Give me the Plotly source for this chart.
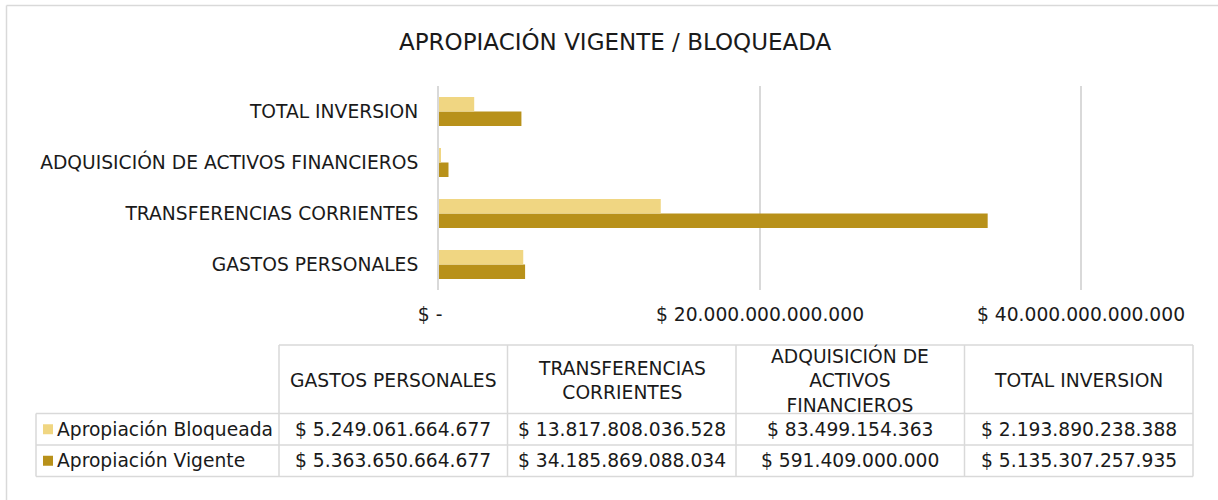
import plotly.graph_objects as go

# ---------------- data ----------------
title_text = "APROPIACIÓN VIGENTE / BLOQUEADA"
categories = ["GASTOS PERSONALES", "TRANSFERENCIAS CORRIENTES",
              "ADQUISICIÓN DE ACTIVOS FINANCIEROS", "TOTAL INVERSION"]
table_headers = ["GASTOS PERSONALES", "TRANSFERENCIAS<br>CORRIENTES",
                 "ADQUISICIÓN DE<br>ACTIVOS<br>FINANCIEROS", "TOTAL INVERSION"]
series_names = ["Apropiación Bloqueada", "Apropiación Vigente"]
bloqueada = [5249061664677, 13817808036528, 83499154363, 2193890238388]
vigente = [5363650664677, 34185869088034, 591409000000, 5135307257935]
x_tickvals = [0, 20e12, 40e12]
x_ticktext = ["$ -\u00a0\u00a0\u00a0", "$ 20.000.000.000.000", "$ 40.000.000.000.000"]

# ---------------- style ----------------
W, H = 1218, 500
FONT = "DejaVu Sans"
FS = 18.7
C_LIGHT = "#F0D682"
C_DARK = "#B8911A"
GRID = "#D9D9D9"
TXT = "#1a1a1a"

def px(x):
    return x / W

def py(y):
    return 1 - y / H

def money(v):
    return "$ " + f"{v:,.0f}".replace(",", ".")

fig = go.Figure()
fig.add_trace(go.Bar(y=categories, x=vigente, orientation="h", name=series_names[1],
                     marker=dict(color=C_DARK, line=dict(width=0))))
fig.add_trace(go.Bar(y=categories, x=bloqueada, orientation="h", name=series_names[0],
                     marker=dict(color=C_LIGHT, line=dict(width=0))))

x0, x1 = 439, 439 + 45 * (1081 - 439) / 40
y_top, y_bot = 86, 290

shapes = []
annotations = []

# outer frame (top and left edges visible)
shapes.append(dict(type="line", xref="paper", yref="paper", x0=px(6.5), x1=px(1230),
                   y0=py(5.5), y1=py(5.5), line=dict(color=GRID, width=1.5)))
shapes.append(dict(type="line", xref="paper", yref="paper", x0=px(6.5), x1=px(6.5),
                   y0=py(5.5), y1=py(510), line=dict(color=GRID, width=1.5)))

# ---------------- data table ----------------
col_l = 279
col_w = (1193 - 279) / 4
first_l = 36
row_y = [345, 413.5, 445, 476.5]
lc = dict(color=GRID, width=1.5)
shapes.append(dict(type="line", xref="paper", yref="paper", x0=px(col_l), x1=px(1193),
                   y0=py(row_y[0]), y1=py(row_y[0]), line=lc))
for yy in row_y[1:]:
    shapes.append(dict(type="line", xref="paper", yref="paper", x0=px(first_l), x1=px(1193),
                       y0=py(yy), y1=py(yy), line=lc))
shapes.append(dict(type="line", xref="paper", yref="paper", x0=px(first_l), x1=px(first_l),
                   y0=py(row_y[1]), y1=py(row_y[3]), line=lc))
for i in range(5):
    xx = col_l + i * col_w
    shapes.append(dict(type="line", xref="paper", yref="paper", x0=px(xx), x1=px(xx),
                       y0=py(row_y[0]), y1=py(row_y[3]), line=lc))

for i, h in enumerate(table_headers):
    annotations.append(dict(xref="paper", yref="paper", x=px(col_l + (i + 0.5) * col_w),
                            y=py((row_y[0] + row_y[1]) / 2 + 1), text=h, showarrow=False,
                            xanchor="center", yanchor="middle", align="center",
                            font=dict(family=FONT, size=FS, color=TXT)))
rows = [(series_names[0], bloqueada, C_LIGHT), (series_names[1], vigente, C_DARK)]
for r, (name, vals, col) in enumerate(rows):
    yc = (row_y[r + 1] + row_y[r + 2]) / 2
    shapes.append(dict(type="rect", xref="paper", yref="paper", x0=px(43), x1=px(53),
                       y0=py(yc - 5), y1=py(yc + 5), fillcolor=col, line=dict(width=0)))
    annotations.append(dict(xref="paper", yref="paper", x=px(55), y=py(yc), text=name,
                            showarrow=False, xanchor="left", yanchor="middle",
                            font=dict(family=FONT, size=FS, color=TXT)))
    for i, v in enumerate(vals):
        annotations.append(dict(xref="paper", yref="paper", x=px(col_l + (i + 0.5) * col_w),
                                y=py(yc), text=money(v), showarrow=False,
                                xanchor="center", yanchor="middle",
                                font=dict(family=FONT, size=FS, color=TXT)))

annotations.append(dict(xref="paper", yref="paper", x=px(615), y=py(42), text=title_text,
                        showarrow=False, xanchor="center", yanchor="middle",
                        font=dict(family=FONT, size=23, color=TXT)))

fig.update_layout(
    width=W, height=H,
    margin=dict(l=0, r=0, t=0, b=0),
    paper_bgcolor="white", plot_bgcolor="white",
    barmode="group", bargap=0.43, bargroupgap=0,
    showlegend=False,
    font=dict(family=FONT, size=FS, color=TXT),
    xaxis=dict(domain=[px(x0), px(x1)], range=[0, 45e12], tickvals=x_tickvals,
               ticktext=x_ticktext, showgrid=True, gridcolor=GRID, gridwidth=1.5,
               zeroline=False, showline=False, ticks="", automargin=False,
               ticklabelstandoff=11, tickfont=dict(family=FONT, size=FS, color=TXT)),
    yaxis=dict(domain=[py(y_bot), py(y_top)], showline=True, linecolor=GRID, linewidth=2,
               showgrid=False, ticks="", automargin=False, ticklabelstandoff=15,
               tickfont=dict(family=FONT, size=FS, color=TXT)),
    shapes=shapes, annotations=annotations,
)

fig.write_html("out.html")
